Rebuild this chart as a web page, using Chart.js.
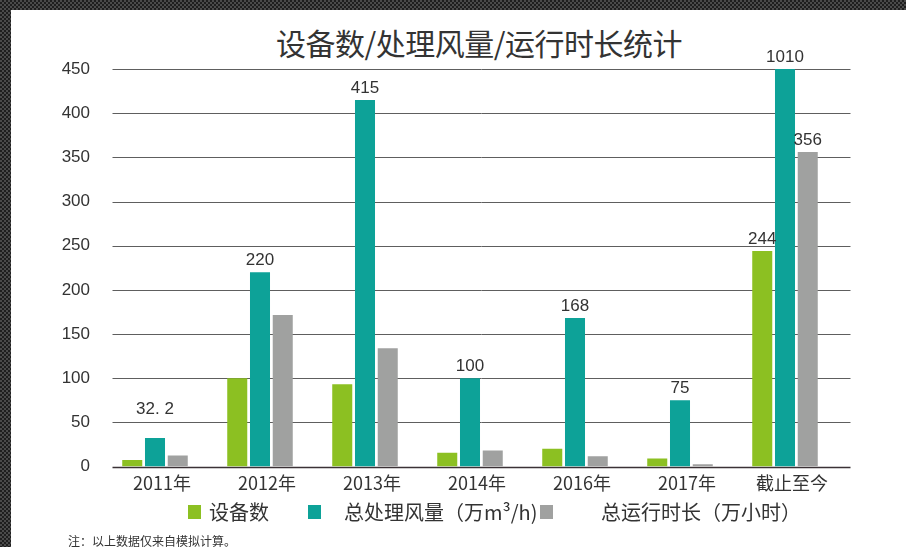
<!DOCTYPE html>
<html>
<head>
<meta charset="utf-8">
<script src="https://cdn.jsdelivr.net/npm/chart.js@4/dist/chart.umd.min.js"></script>
<style>
  html, body { margin: 0; padding: 0; }
  body {
    width: 906px; height: 547px; overflow: hidden; position: relative;
    background: repeating-conic-gradient(#1e1e1e 0 25%, #4a4a4a 0 50%) 0 0 / 4px 4px;
    font-family: 'Noto Sans CJK SC', sans-serif; color: #333;
  }
  .page { position: absolute; left: 11px; top: 10px; right: 0; bottom: 0; background: #fff; }
  .title {
    position: absolute; left: 0; width: 958px; top: 22px; text-align: center;
    font-size: 30px; line-height: 40px; color: #333; letter-spacing: -0.5px;
  }
  #wrap { position: absolute; left: 0; top: 0; width: 906px; height: 547px; }
  .lg { position: absolute; font-size: 20px; line-height: 26px; top: 499px; color: #333; white-space: nowrap; }
  .sw { position: absolute; top: 505px; width: 13px; height: 14px; }
  .note { position: absolute; left: 68px; top: 533px; font-size: 12px; line-height: 16px; color: #333; }
</style>
</head>
<body>
<div class="page"></div>
<div class="title">设备数/处理风量/运行时长统计</div>
<div id="wrap"><canvas id="chart"></canvas></div>
<div class="sw" style="left:188px;background:#8cc022"></div>
<div class="lg" style="left:209px">设备数</div>
<div class="sw" style="left:308px;background:#0da298"></div>
<div class="lg" style="left:344px">总处理风量（万m³/h)</div>
<div class="sw" style="left:540px;background:#a0a1a0"></div>
<div class="lg" style="left:601px">总运行时长（万小时）</div>
<div class="note">注：以上数据仅来自模拟计算。</div>
<script>
// ===== 数据 =====
const categories = ['2011年', '2012年', '2013年', '2014年', '2016年', '2017年', '截止至今'];
const seriesNames = ['设备数', '总处理风量（万m³/h)', '总运行时长（万小时）'];
const deviceCount = [7.5, 100, 93, 15.5, 20, 9, 244];
const airVolume = [32.2, 220, 415, 100, 168, 75, 1010];
const runHours = [12.5, 171.5, 134, 18, 11.7, 2.6, 356];
// 柱顶数字（null = 不标）
const deviceLabels = [null, null, null, null, null, null, '244'];
const airVolumeLabels = ['32. 2', '220', '415', '100', '168', '75', '1010'];
const runHoursLabels = [null, null, null, null, null, null, '356'];
const yMin = 0, yMax = 450, yStep = 50;

const colors = ['#8cc022', '#0da298', '#a0a1a0'];
const cjk = "'Noto Sans CJK SC', sans-serif";
const latin = "'Liberation Sans', Arial, sans-serif";

// 网格线：比柱区略偏右
const gridPlugin = {
  id: 'gridLines',
  beforeDatasetsDraw(chart) {
    const { ctx, chartArea, scales } = chart;
    ctx.save();
    scales.y.ticks.forEach(t => {
      const y = Math.round(scales.y.getPixelForValue(t.value)) + 0.5;
      ctx.beginPath();
      ctx.strokeStyle = t.value === 0 ? '#3b3236' : '#5e5e5e';
      ctx.lineWidth = t.value === 0 ? 1.5 : 1;
      ctx.moveTo(chartArea.left + 10, y);
      ctx.lineTo(chartArea.right + 13, y);
      ctx.stroke();
    });
    ctx.restore();
  }
};

// 柱顶标签
const labelPlugin = {
  id: 'barLabels',
  afterDatasetsDraw(chart) {
    const { ctx, chartArea } = chart;
    const labelSets = [deviceLabels, airVolumeLabels, runHoursLabels];
    ctx.save();
    ctx.font = '17px ' + latin;
    ctx.fillStyle = '#333';
    ctx.textAlign = 'center';
    ctx.textBaseline = 'bottom';
    labelSets.forEach((labels, di) => {
      const meta = chart.getDatasetMeta(di);
      labels.forEach((txt, i) => {
        if (txt == null) return;
        const bar = meta.data[i];
        const top = Math.max(bar.y, chartArea.top);
        const lift = (di === 1 && i === 0) ? 17 : 0;
        ctx.fillText(txt, bar.x, top - 3 - lift);
      });
    });
    ctx.restore();
  }
};

new Chart(document.getElementById('chart'), {
  type: 'bar',
  data: {
    labels: categories,
    datasets: [deviceCount, airVolume, runHours].map((d, i) => ({
      label: seriesNames[i],
      data: d,
      backgroundColor: colors[i],
      borderWidth: 0,
      categoryPercentage: 0.65,
      barPercentage: 0.88
    }))
  },
  options: {
    responsive: true,
    maintainAspectRatio: false,
    animation: false,
    layout: { padding: { top: 69, right: 68.5, bottom: 50.5, left: 0 } },
    plugins: {
      legend: { display: false },
      title: { display: false },
      tooltip: { enabled: false }
    },
    scales: {
      x: {
        grid: { display: false, drawTicks: false },
        border: { display: false },
        ticks: {
          color: '#333',
          font: { family: cjk, size: 18 },
          padding: 6,
          labelOffset: 7,
          maxRotation: 0
        },
        afterFit(s) { s.height = 30; }
      },
      y: {
        min: yMin,
        max: yMax,
        grid: { display: false, drawTicks: false },
        border: { display: false },
        ticks: {
          stepSize: yStep,
          color: '#333',
          font: { family: latin, size: 17 },
          padding: 12.5
        },
        afterFit(s) { s.width = 102.5; }
      }
    }
  },
  plugins: [gridPlugin, labelPlugin]
});
</script>
</body>
</html>
